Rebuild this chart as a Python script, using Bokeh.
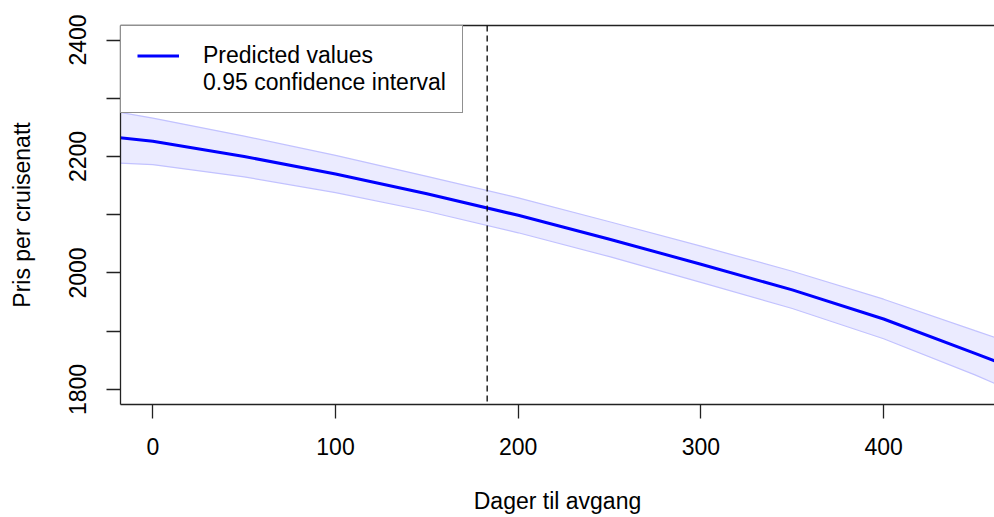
from bokeh.plotting import figure
from bokeh.models import (Range1d, FixedTicker, LinearAxis, Span, Legend, LegendItem)
from bokeh.embed import file_html
from bokeh.resources import INLINE

# ---- data ----
days = [-20, 0, 50, 100, 150, 200, 250, 300, 350, 400, 450, 470]
predicted = [2233, 2226, 2200, 2170, 2136, 2099, 2058, 2015, 1971, 1921, 1862, 1838]
upper_ci = [2277, 2266, 2235, 2202, 2166, 2129, 2088, 2046, 2003, 1955, 1901, 1880]
lower_ci = [2189, 2186, 2165, 2138, 2106, 2069, 2028, 1984, 1939, 1887, 1825, 1798]
vline_day = 183
x_ticks = [0, 100, 200, 300, 400]
y_ticks = [1800, 1900, 2000, 2100, 2200, 2300, 2400]
y_tick_labels = {1800: "1800", 1900: "", 2000: "2000", 2100: "", 2200: "2200", 2300: "", 2400: "2400"}
x_title = "Dager til avgang"
y_title = "Pris per cruisenatt"
legend_labels = ["Predicted values", "0.95 confidence interval"]

FONT = "Liberation Sans"
FS = "23px"

p = figure(width=994, height=517, output_backend="svg", toolbar_location=None,
           x_range=Range1d(-17.7, 460.7), y_range=Range1d(1774.2, 2424.9),
           x_axis_type=None, y_axis_type=None,
           min_border_left=120, min_border_right=0, min_border_top=25, min_border_bottom=113)
p.outline_line_color = None
p.xgrid.visible = False
p.ygrid.visible = False
p.background_fill_color = "white"
p.border_fill_color = "white"

# confidence band
p.varea(x=days, y1=lower_ci, y2=upper_ci, fill_color="#ebebff", fill_alpha=1.0)
p.line(days, upper_ci, line_color="#c2c2ff", line_width=1.2)
p.line(days, lower_ci, line_color="#c2c2ff", line_width=1.2)
main = p.line(days, predicted, line_color="#0000ff", line_width=3)
dummy = p.line(days, predicted, line_alpha=0)

p.add_layout(Span(location=vline_day, dimension="height", line_color="black",
                  line_dash="6 4", line_width=1.3))

AX_COLOR = "#222222"

xaxis = LinearAxis(ticker=FixedTicker(ticks=x_ticks), axis_label=x_title)
xaxis.major_tick_out = 14
xaxis.major_tick_in = 0
xaxis.minor_tick_out = 0
xaxis.minor_tick_in = 0
xaxis.major_label_standoff = 19
xaxis.axis_label_standoff = 30
p.add_layout(xaxis, "below")

yaxis = LinearAxis(ticker=FixedTicker(ticks=y_ticks), axis_label=y_title)
yaxis.major_label_overrides = y_tick_labels
yaxis.major_label_orientation = "vertical"
yaxis.major_tick_out = 14
yaxis.major_tick_in = 0
yaxis.minor_tick_out = 0
yaxis.minor_tick_in = 0
yaxis.major_label_standoff = 20
yaxis.axis_label_standoff = 32
p.add_layout(yaxis, "left")

top_axis = LinearAxis(ticker=FixedTicker(ticks=[]))
top_axis.major_tick_out = 0
top_axis.major_tick_in = 0
top_axis.minor_tick_out = 0
top_axis.minor_tick_in = 0
top_axis.major_label_standoff = 0
top_axis.major_label_text_font_size = "1px"
p.add_layout(top_axis, "above")

for ax in [xaxis, yaxis, top_axis]:
    ax.axis_line_color = AX_COLOR
    ax.axis_line_width = 1.3
    ax.major_tick_line_color = AX_COLOR
    ax.major_tick_line_width = 1.3
    ax.major_label_text_font = FONT
    ax.major_label_text_color = "black"
    ax.axis_label_text_font = FONT
    ax.axis_label_text_font_style = "normal"
    ax.axis_label_text_color = "black"
for ax in [xaxis, yaxis]:
    ax.major_label_text_font_size = FS
    ax.axis_label_text_font_size = FS

legend = Legend(items=[LegendItem(label=legend_labels[0], renderers=[main]),
                       LegendItem(label=legend_labels[1], renderers=[dummy])],
                location="top_left")
legend.margin = 0
legend.padding = 16
legend.spacing = 0
legend.label_height = 25
legend.glyph_height = 25
legend.glyph_width = 42
legend.label_standoff = 24
legend.border_line_color = AX_COLOR
legend.border_line_width = 1.3
legend.background_fill_color = "white"
legend.background_fill_alpha = 1.0
legend.label_text_font = FONT
legend.label_text_font_size = FS
legend.label_text_color = "black"
p.add_layout(legend, "center")

open("out.html", "w").write(file_html(p, INLINE))
